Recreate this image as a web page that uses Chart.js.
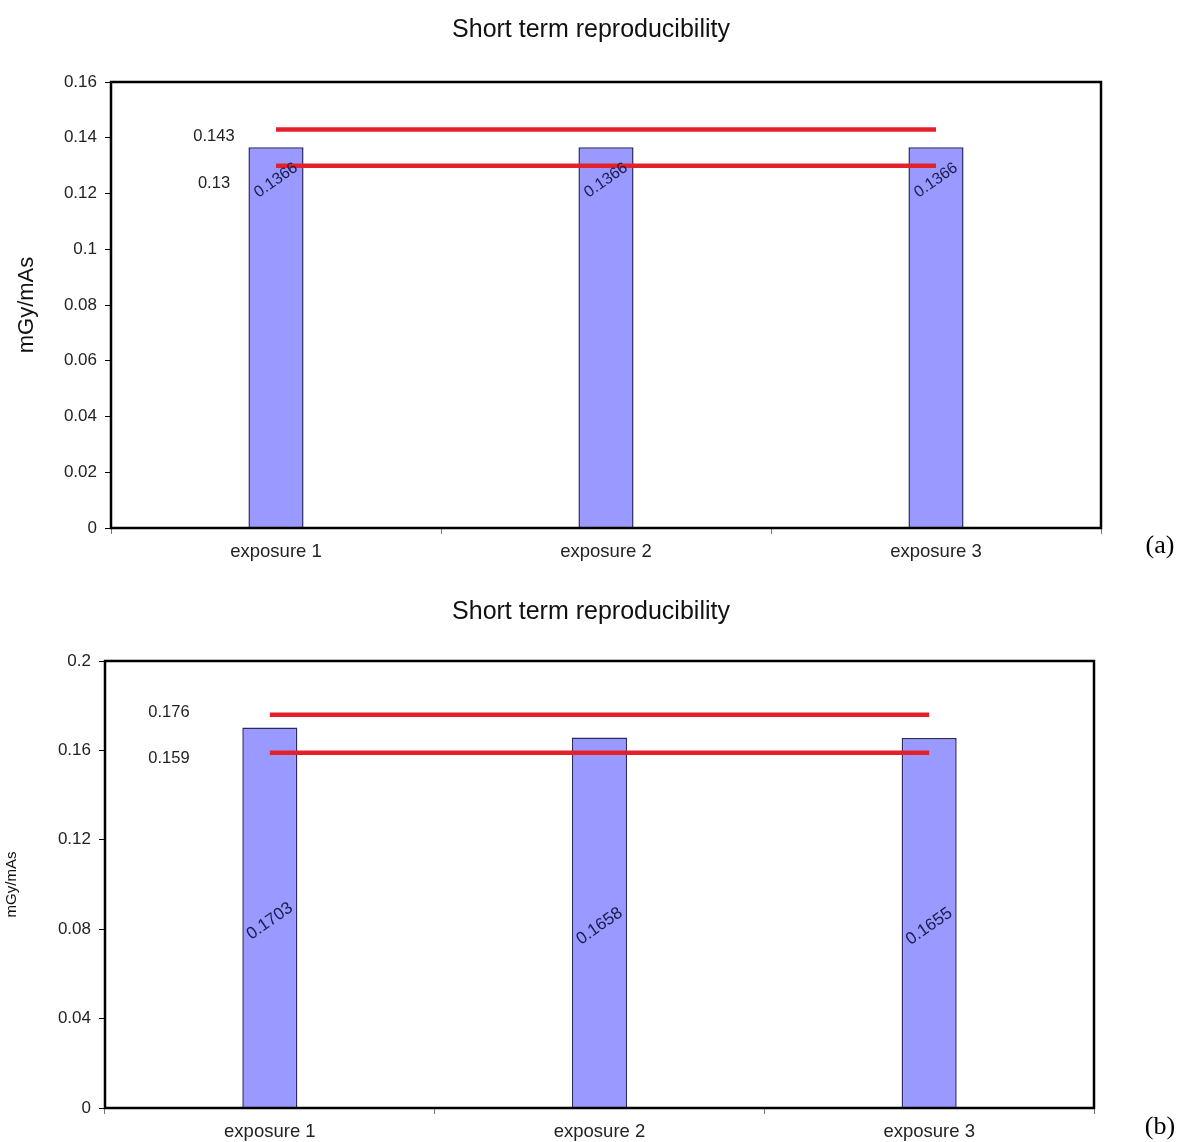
<!DOCTYPE html>
<html>
<head>
  <title>Short term reproducibility</title>
  <script src="https://cdn.jsdelivr.net/npm/chart.js"></script>
  <style>
    body { margin: 0; background: #fff; }
    .panel { position: absolute; left: 0; width: 1182px; }
  </style>
</head>
<body>
  <div class="panel" style="top:0; height:575px;"><canvas id="chartA"></canvas></div>
  <div class="panel" style="top:575px; height:567px;"><canvas id="chartB"></canvas></div>

  <script>
    // values
    const categories = ['exposure 1', 'exposure 2', 'exposure 3'];

    const valuesA = [0.1366, 0.1366, 0.1366];
    const limitsA = [0.143, 0.13];
    const yMaxA = 0.16, yStepA = 0.02;

    const valuesB = [0.1703, 0.1658, 0.1655];
    const limitsB = [0.176, 0.159];
    const yMaxB = 0.2, yStepB = 0.04;

    Chart.defaults.font.family = "'Liberation Sans', Arial, sans-serif";
    Chart.defaults.color = '#222';

    // frame, rotated bar values, limit labels and the (a)/(b) letter
    const panelDecor = {
      id: 'panelDecor',
      afterDatasetsDraw(chart, args, opts) {
        const { ctx, chartArea: area, scales: { y } } = chart;
        ctx.save();
        ctx.strokeStyle = '#000';
        ctx.lineWidth = 2.5;
        ctx.strokeRect(area.left, area.top, area.width, area.height);

        ctx.textAlign = 'center';
        ctx.textBaseline = 'middle';
        ctx.fillStyle = '#1c1c4c';
        ctx.font = opts.valueFont + "px 'Liberation Sans', Arial, sans-serif";
        const bars = chart.data.datasets[0].data;
        chart.getDatasetMeta(0).data.forEach((bar, i) => {
          const cy = bar.y + (bar.base - bar.y) * opts.valuePos;
          ctx.save();
          ctx.translate(bar.x, cy);
          ctx.rotate(-35 * Math.PI / 180);
          ctx.fillText(String(bars[i]), 0, 0);
          ctx.restore();
        });

        ctx.fillStyle = '#222';
        ctx.font = opts.limitFont + "px 'Liberation Sans', Arial, sans-serif";
        opts.limits.forEach((v, i) => {
          ctx.fillText(String(v), area.left + opts.limitX, y.getPixelForValue(v) + opts.limitDy[i]);
        });

        ctx.fillStyle = '#000';
        ctx.font = "26px 'Liberation Serif', 'Times New Roman', serif";
        ctx.fillText(opts.letter, 1160, opts.letterY);
        ctx.restore();
      }
    };

    function makeChart(id, values, limits, yMax, yStep, cfg) {
      const limitSets = limits.map(v => ({
        type: 'line',
        data: categories.map(() => v),
        borderColor: '#e3212b',
        borderWidth: 4.5,
        pointRadius: 0,
        order: 0,
      }));

      return new Chart(document.getElementById(id), {
        type: 'bar',
        data: {
          labels: categories,
          datasets: [
            {
              data: values,
              backgroundColor: '#9999ff',
              borderColor: '#2a2a60',
              borderWidth: 1.5,
              barPercentage: 0.167,
              categoryPercentage: 1,
              order: 1,
            },
            ...limitSets,
          ],
        },
        options: {
          responsive: true,
          maintainAspectRatio: false,
          animation: false,
          layout: { padding: 0 },
          scales: {
            x: {
              grid: { drawOnChartArea: false, tickLength: 6, color: '#777' },
              border: { display: false },
              ticks: { font: { size: 18.5 }, padding: 7, color: '#222' },
              afterFit(s) { s.height = cfg.xHeight; },
            },
            y: {
              min: 0,
              max: yMax,
              ticks: {
                stepSize: yStep,
                font: { size: 17 },
                padding: 8,
                color: '#222',
                callback: v => String(+v.toFixed(4)),
              },
              grid: { drawOnChartArea: false, tickLength: 6, color: '#000' },
              border: { display: false },
              title: {
                display: true,
                text: 'mGy/mAs',
                font: { size: cfg.yTitleFont },
                color: '#111',
                padding: { top: cfg.yTitlePad, bottom: 0 },
              },
              afterFit(s) { s.width = cfg.yWidth; },
            },
            // empty right-hand strip so the title stays centred on the page
            yRight: {
              position: 'right',
              grid: { display: false },
              border: { display: false },
              ticks: { display: false },
              afterFit(s) { s.width = cfg.padRight; },
            },
          },
          plugins: {
            legend: { display: false },
            tooltip: { enabled: false },
            title: {
              display: true,
              text: 'Short term reproducibility',
              font: { size: 25, weight: 'normal' },
              color: '#111',
              padding: { top: cfg.titleTop, bottom: cfg.titleBottom },
            },
            panelDecor: {
              limits: limits,
              limitX: cfg.limitX,
              limitDy: cfg.limitDy,
              limitFont: 16.5,
              valueFont: cfg.valueFont,
              valuePos: cfg.valuePos,
              letter: cfg.letter,
              letterY: cfg.letterY,
            },
          },
        },
        plugins: [panelDecor],
      });
    }

    makeChart('chartA', valuesA, limitsA, yMaxA, yStepA, {
      padRight: 81, yWidth: 111, xHeight: 47,
      yTitleFont: 22, yTitlePad: 14,
      titleTop: 15, titleBottom: 37,
      limitX: 103, limitDy: [7, 18],
      valueFont: 16, valuePos: 0.087,
      letter: '(a)', letterY: 546,
    });

    makeChart('chartB', valuesB, limitsB, yMaxB, yStepB, {
      padRight: 88, yWidth: 105, xHeight: 34,
      yTitleFont: 15, yTitlePad: 3,
      titleTop: 22, titleBottom: 34,
      limitX: 64, limitDy: [-2, 6],
      valueFont: 17, valuePos: 0.51,
      letter: '(b)', letterY: 552,
    });
  </script>
</body>
</html>
